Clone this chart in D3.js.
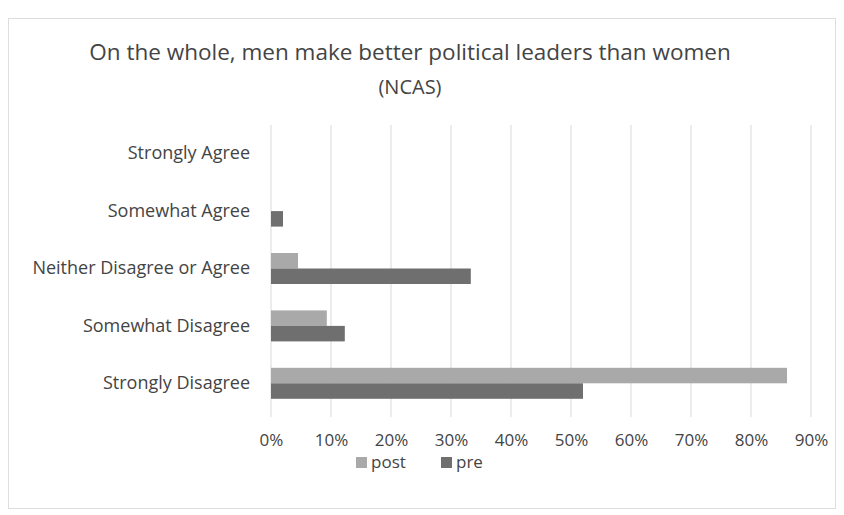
<!DOCTYPE html>
<html>
<head>
<meta charset="utf-8">
<script src="https://cdn.jsdelivr.net/npm/d3@7"></script>
<style>
  body { margin: 0; background: #fff; }
  svg text { font-family: "Open Sans", "Noto Sans", sans-serif; fill: #444; }
</style>
</head>
<body>
<div id="chart"></div>
<script>
const categories = ['Strongly Agree', 'Somewhat Agree', 'Neither Disagree or Agree', 'Somewhat Disagree', 'Strongly Disagree'];
const seriesNames = ['post', 'pre'];
const postValues = [0, 0, 0.045, 0.093, 0.86];
const preValues = [0, 0.02, 0.333, 0.123, 0.52];
const xTicks = [0, 0.1, 0.2, 0.3, 0.4, 0.5, 0.6, 0.7, 0.8, 0.9];
const colors = { post: '#a9a9a9', pre: '#6f6f6f' };

const W = 844, H = 515;
const svg = d3.select('#chart').append('svg').attr('width', W).attr('height', H);

// outer chart border
svg.append('rect').attr('x', 8.5).attr('y', 18.5).attr('width', 827).attr('height', 490)
  .attr('fill', 'none').attr('stroke', '#dedede');

// title
svg.append('text').attr('x', 410).attr('y', 60).attr('text-anchor', 'middle')
  .style('font-size', '22.5px').text('On the whole, men make better political leaders than women');
svg.append('text').attr('x', 410).attr('y', 94).attr('text-anchor', 'middle')
  .style('font-size', '20px').text('(NCAS)');

const plotLeft = 271, plotRight = 811, plotTop = 125, plotBottom = 412;

const x = d3.scaleLinear().domain([0, 0.9]).range([plotLeft, plotRight]);
const y = d3.scaleBand().domain(categories).range([plotTop, plotBottom]).paddingInner(0.46).paddingOuter(0.23);
const ySub = d3.scaleBand().domain(seriesNames).range([0, y.bandwidth()]);

// gridlines
svg.append('g').selectAll('line').data(xTicks).enter().append('line')
  .attr('x1', d => x(d)).attr('x2', d => x(d))
  .attr('y1', plotTop).attr('y2', plotBottom + 5)
  .attr('stroke', '#d9d9d9').attr('stroke-width', 1);

// x axis labels
const xAxis = svg.append('g').attr('transform', `translate(0,${plotBottom})`)
  .call(d3.axisBottom(x).tickValues(xTicks).tickFormat(d3.format('.0%')).tickSize(0).tickPadding(22));
xAxis.select('.domain').remove();
xAxis.selectAll('text').style('font-size', '17px').attr('fill', '#444');

// y axis labels
const yAxis = svg.append('g').attr('transform', `translate(${plotLeft},0)`)
  .call(d3.axisLeft(y).tickSize(0).tickPadding(21));
yAxis.select('.domain').remove();
yAxis.selectAll('text').style('font-size', '18px').attr('fill', '#444');

const rows = categories.map((c, i) => ({ cat: c, post: postValues[i], pre: preValues[i] }));

seriesNames.forEach(s => {
  svg.append('g').selectAll('rect').data(rows).enter().append('rect')
    .attr('x', x(0))
    .attr('y', d => y(d.cat) + ySub(s))
    .attr('width', d => x(d[s]) - x(0))
    .attr('height', ySub.bandwidth())
    .attr('fill', colors[s]);
});

// legend
const legend = svg.append('g').attr('transform', 'translate(356,462)');
seriesNames.forEach((s, i) => {
  const gx = i === 0 ? 0 : 85;
  legend.append('rect').attr('x', gx).attr('y', -5).attr('width', 11).attr('height', 11).attr('fill', colors[s]);
  legend.append('text').attr('x', gx + 15).attr('y', 6).style('font-size', '17px').text(s);
});
</script>
</body>
</html>
